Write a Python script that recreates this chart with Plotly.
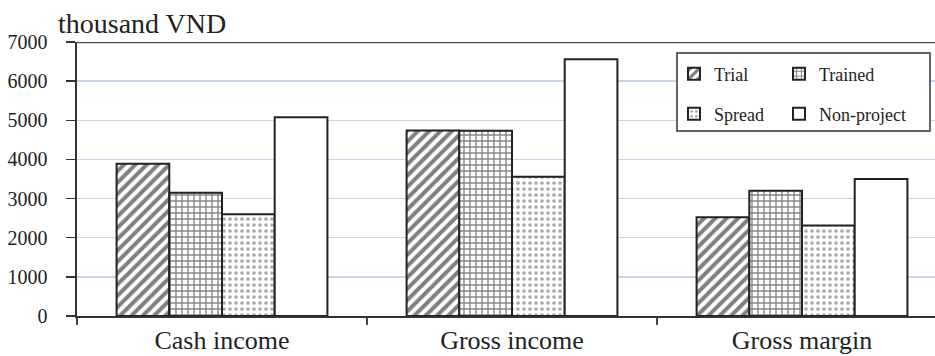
import plotly.graph_objects as go

# Income figures per household group, thousand VND
categories = ["Cash income", "Gross income", "Gross margin"]
trial = [3890, 4740, 2520]
trained = [3150, 4730, 3200]
spread = [2600, 3560, 2310]
non_project = [5080, 6560, 3500]

y_ticks = [0, 1000, 2000, 3000, 4000, 5000, 6000, 7000]

FONT = "Liberation Serif, Times New Roman, serif"
INK = "#222222"

W, H = 935, 356
M_L, M_R, M_T, M_B = 77, 0, 42, 40
plot_w = W - M_L - M_R
plot_h = H - M_T - M_B
cat_px = 290.0  # pixel width of one category slot


def px_x(px):
    return (px - M_L) / plot_w


def px_y(py):
    return (H - M_B - py) / plot_h


# name, values, fill pattern, legend id, legend entry position (px)
series = [
    ("Trial", trial, dict(shape="/", size=8, solidity=0.5, fgcolor="#000000", bgcolor="white"), "legend", (674, 74)),
    ("Trained", trained, dict(shape="+", size=6, solidity=0.42, fgcolor="#111111", bgcolor="white"), "legend2", (779, 74)),
    ("Spread", spread, dict(shape=".", size=6, solidity=0.3, fgcolor="#555555", bgcolor="white"), "legend3", (674, 114)),
    ("Non-project", non_project, dict(shape="", bgcolor="white"), "legend4", (779, 114)),
]

fig = go.Figure()
legends = {}
for name, vals, pattern, leg, (lx, ly) in series:
    fig.add_trace(go.Bar(
        name=name,
        x=categories,
        y=vals,
        legend=leg,
        marker=dict(color="white", pattern=pattern,
                    line=dict(color=INK, width=2)),
        hoverinfo="skip",
    ))
    legends[leg] = dict(
        x=px_x(lx), y=px_y(ly),
        orientation="h",
        xanchor="left",
        yanchor="middle",
        bgcolor="rgba(0,0,0,0)",
        borderwidth=0,
        font=dict(family=FONT, size=18, color=INK),
        itemclick=False,
        itemdoubleclick=False,
    )

fig.update_layout(
    width=W,
    height=H,
    margin=dict(l=M_L, r=M_R, t=M_T, b=M_B, pad=0),
    paper_bgcolor="white",
    plot_bgcolor="white",
    barmode="group",
    bargap=0.273,
    bargroupgap=0,
    showlegend=True,
    font=dict(family=FONT, color=INK),
    xaxis=dict(
        type="category",
        range=[-0.5, -0.5 + plot_w / cat_px],
        tickson="boundaries",
        ticks="outside",
        ticklen=7,
        tickwidth=1.5,
        tickcolor="#444444",
        showline=True,
        linecolor="#333333",
        linewidth=2,
        showgrid=False,
        tickfont=dict(family=FONT, size=26, color=INK),
        automargin=False,
        fixedrange=True,
    ),
    yaxis=dict(
        range=[0, 7000],
        tickvals=y_ticks,
        ticktext=[str(v) for v in y_ticks],
        ticks="outside",
        ticklen=9,
        tickwidth=1.5,
        tickcolor="#333333",
        ticklabelstandoff=14,
        showline=True,
        linecolor="#333333",
        linewidth=2.5,
        showgrid=True,
        gridcolor="#c6d4ee",
        gridwidth=1.5,
        zeroline=False,
        tickfont=dict(family=FONT, size=20, color=INK),
        automargin=False,
        fixedrange=True,
    ),
    shapes=[
        # top frame line at 7000
        dict(type="line", xref="paper", yref="y", x0=0, x1=1, y0=7000, y1=7000,
             line=dict(color="#48525e", width=2.5), layer="above"),
        # legend box
        dict(type="rect", xref="paper", yref="paper",
             x0=px_x(677), x1=px_x(930), y0=px_y(131), y1=px_y(53),
             fillcolor="white", line=dict(color="#333333", width=1.5), layer="above"),
    ],
    annotations=[
        dict(text="thousand VND", xref="paper", yref="paper",
             x=px_x(56), y=px_y(23), xanchor="left", yanchor="middle",
             showarrow=False, font=dict(family=FONT, size=28, color=INK)),
    ],
)
fig.update_layout(**legends)

fig.write_html("out.html", config={"displayModeBar": False, "staticPlot": True})
